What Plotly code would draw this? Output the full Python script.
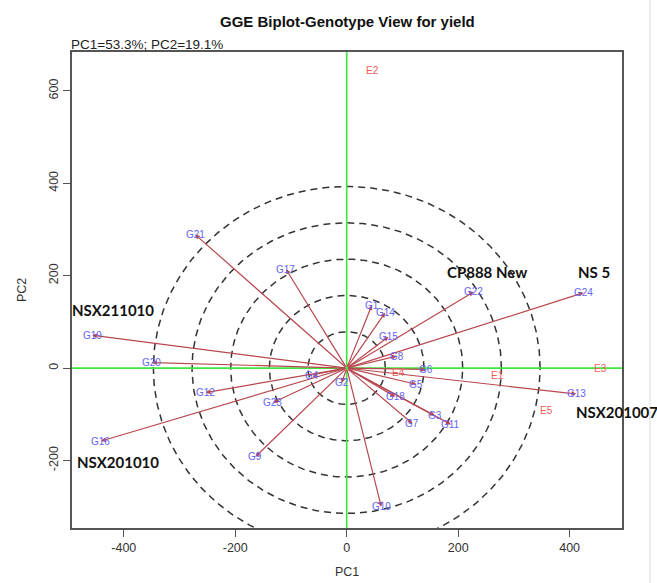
import numpy as np
import plotly.graph_objects as go

# Genotype scores (PC1, PC2)
genotypes = ["G1", "G2", "G3", "G4", "G5", "G6", "G7", "G8", "G9", "G10", "G11", "G12",
             "G13", "G14", "G15", "G16", "G17", "G18", "G19", "G20", "G21", "G22", "G23", "G24"]
pc1_g = [45, -9, 158, -62, 125, 142, 118, 90, -164, 62, 187, -253,
         412, 69, 75, -441, -109, 87, -457, -350, -272, 228, -133, 425]
pc2_g = [136, -32, -103, -15, -35, -3, -120, 26, -192, -300, -122, -53,
         -56, 120, 68, -158, 214, -62, 71, 12, 289, 165, -75, 163]

# Environment scores (PC1, PC2)
envs = ["E1", "E2", "E3", "E4", "E5"]
pc1_e = [270, 46, 455, 93, 359]
pc2_e = [-15, 645, -1, -9, -91]

# Named cultivars tied to their genotype codes
cultivar_names = ["CP888 New", "NS 5", "NSX211010", "NSX201010", "NSX201007"]
cultivar_codes = ["G22", "G24", "G19", "G16", "G13"]
cultivar_shift = [(13, 20), (10, 21), (21, 25), (17, -21), (41, -18)]

title_text = "GGE Biplot-Genotype View for yield"
subtitle_text = "PC1=53.3%; PC2=19.1%"
x_title, y_title = "PC1", "PC2"
x_ticks = [-400, -200, 0, 200, 400]
y_ticks = [-200, 0, 200, 400, 600]

X_RANGE = [-493, 494]
Y_RANGE = [-346, 684]

# plot area in pixels: left 72, right 622, top 52, bottom 528
W, H = 657, 583
L, R, T, B = 72, 35, 52, 55
PW, PH = W - L - R, H - T - B


def px_x(px):
    return (px - L) / PW


def px_y(py):
    return (H - B - py) / PH


fig = go.Figure()

# concentric reference circles (slightly elliptical in data units)
ring_x, ring_y = 69.4, 78.6
t = np.linspace(0, 2 * np.pi, 361)
for k in range(1, 6):
    fig.add_trace(go.Scatter(
        x=k * ring_x * np.cos(t), y=k * ring_y * np.sin(t), mode="lines",
        line=dict(color="#333333", width=1.5, dash="7px,5px"),
        hoverinfo="skip", showlegend=False))

# green axes through the origin
fig.add_trace(go.Scatter(x=[X_RANGE[0], X_RANGE[1]], y=[0, 0], mode="lines",
                         line=dict(color="#3ce63c", width=1.6), hoverinfo="skip", showlegend=False))
fig.add_trace(go.Scatter(x=[0, 0], y=[Y_RANGE[0], Y_RANGE[1]], mode="lines",
                         line=dict(color="#3ce63c", width=1.6), hoverinfo="skip", showlegend=False))

annotations = []
# genotype vectors
for gx, gy in zip(pc1_g, pc2_g):
    annotations.append(dict(
        x=gx, y=gy, ax=0, ay=0, xref="x", yref="y", axref="x", ayref="y",
        text="", showarrow=True, arrowhead=2, arrowsize=0.8, arrowwidth=1.2,
        arrowcolor="#b9474f", standoff=0, startstandoff=0))

# genotype labels
for name, gx, gy in zip(genotypes, pc1_g, pc2_g):
    annotations.append(dict(
        x=gx, y=gy, xref="x", yref="y", text=name, showarrow=False,
        font=dict(family="Liberation Sans, Arial", size=10, color="#6464f4")))

# environment labels
for name, ex, ey in zip(envs, pc1_e, pc2_e):
    annotations.append(dict(
        x=ex, y=ey, xref="x", yref="y", text=name, showarrow=False,
        font=dict(family="Liberation Sans, Arial", size=10, color="#f25a5a")))

# cultivar names
for name, code, (dx, dy) in zip(cultivar_names, cultivar_codes, cultivar_shift):
    i = genotypes.index(code)
    annotations.append(dict(
        x=pc1_g[i], y=pc2_g[i], xref="x", yref="y", text="<b>%s</b>" % name,
        showarrow=False, xshift=dx, yshift=dy,
        font=dict(family="Lato, Open Sans, sans-serif", size=15, color="#111111")))

axis_font = dict(family="Liberation Sans, Arial", size=12.5, color="#333333")

# title, subtitle and axis titles
annotations += [
    dict(x=0.5, y=px_y(21), xref="paper", yref="paper", text="<b>%s</b>" % title_text,
         showarrow=False, xanchor="center", yanchor="middle",
         font=dict(family="Liberation Sans, Arial", size=15, color="#111111")),
    dict(x=0, y=px_y(44), xref="paper", yref="paper", text=subtitle_text, xshift=-3,
         showarrow=False, xanchor="left", yanchor="middle",
         font=dict(family="Liberation Sans, Arial", size=13.5, color="#222222")),
    dict(x=0.5, y=px_y(572), xref="paper", yref="paper", text=x_title,
         showarrow=False, xanchor="center", yanchor="middle", font=axis_font),
    dict(x=px_x(22), y=px_y(290), xref="paper", yref="paper", text=y_title, textangle=-90,
         showarrow=False, xanchor="center", yanchor="middle", font=axis_font),
]

fig.update_layout(
    width=W, height=H,
    margin=dict(l=L, r=R, t=T, b=B, autoexpand=False),
    paper_bgcolor="white", plot_bgcolor="white",
    showlegend=False,
    annotations=annotations,
    xaxis=dict(range=X_RANGE, tickvals=x_ticks, ticktext=[str(v) for v in x_ticks],
               showgrid=False, zeroline=False, showline=True, mirror=True, automargin=False,
               linecolor="#555555", linewidth=1.5, ticks="outside", ticklen=7,
               tickcolor="#555555", tickwidth=1.3, tickfont=axis_font),
    yaxis=dict(range=Y_RANGE, tickvals=y_ticks, ticktext=[str(v) for v in y_ticks],
               showgrid=False, zeroline=False, showline=True, mirror=True, automargin=False,
               linecolor="#555555", linewidth=1.5, ticks="outside", ticklen=7,
               tickcolor="#555555", tickwidth=1.3, tickfont=axis_font, tickangle=-90),
    shapes=[dict(type="line", xref="paper", yref="paper",
                 x0=px_x(650), x1=px_x(650), y0=px_y(H), y1=px_y(0),
                 line=dict(color="#d8d8d8", width=1))],
)

fig.write_html("out.html")
